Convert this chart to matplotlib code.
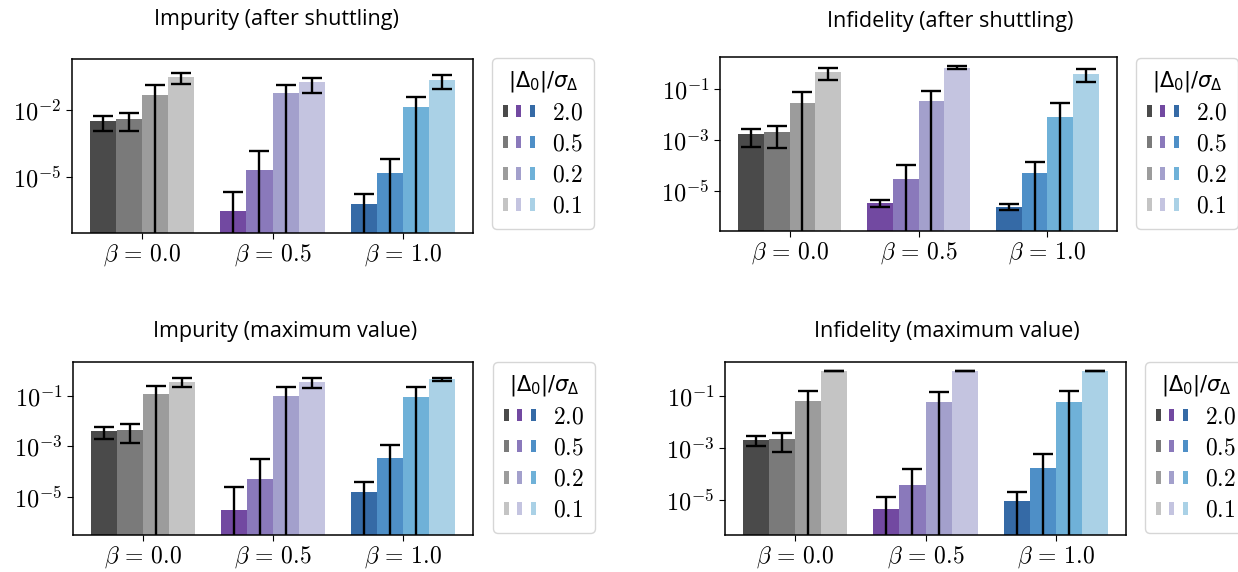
import matplotlib
matplotlib.use("Agg")
import matplotlib.pyplot as plt
from matplotlib.patches import Patch
from matplotlib.legend_handler import HandlerTuple
from matplotlib.ticker import FixedLocator, NullLocator, FuncFormatter
import numpy as np

plt.rcParams['mathtext.fontset'] = 'cm'

# ---------------- data ----------------
group_labels = [r'$\beta\,=\,0.0$', r'$\beta\,=\,0.5$', r'$\beta\,=\,1.0$']
ratio_labels = ['2.0', '0.5', '0.2', '0.1']

grey_colors = ['#4a4a4a', '#7a7a7a', '#9c9c9c', '#c4c4c4']
purple_colors = ['#7249a1', '#8a79bb', '#a3a0cc', '#c4c4e0']
blue_colors = ['#356aa6', '#4e8fc7', '#6fb1d8', '#aad1e6']

titles = ['Impurity (after shuttling)', 'Infidelity (after shuttling)',
          'Impurity (maximum value)', 'Infidelity (maximum value)']

imp_after_vals = [[3.3e-3, 4.2e-3, 0.046, 0.30],
                  [3.3e-7, 2.1e-5, 0.060, 0.175],
                  [6.6e-7, 1.6e-5, 0.014, 0.235]]
imp_after_errs = [[2.1e-3, 3.0e-3, 0.087, 0.15],
                  [2.0e-6, 1.3e-4, 0.070, 0.115],
                  [1.15e-6, 4.9e-5, 0.025, 0.15]]

inf_after_vals = [[1.7e-3, 2.0e-3, 0.028, 0.48],
                  [3.4e-6, 2.9e-5, 0.035, 0.72],
                  [2.4e-6, 4.9e-5, 8.5e-3, 0.42]]
inf_after_errs = [[1.15e-3, 1.5e-3, 0.048, 0.24],
                  [1.0e-6, 7.8e-5, 0.051, 0.10],
                  [0.6e-6, 8.3e-5, 0.021, 0.23]]

imp_max_vals = [[3.9e-3, 4.5e-3, 0.116, 0.36],
                [3.2e-6, 5.1e-5, 0.100, 0.36],
                [1.55e-5, 3.4e-4, 0.091, 0.44]]
imp_max_errs = [[2.0e-3, 3.1e-3, 0.135, 0.14],
                [2.1e-5, 2.7e-4, 0.120, 0.15],
                [2.5e-5, 8.4e-4, 0.130, 0.07]]

inf_max_vals = [[2.0e-3, 2.15e-3, 0.065, 0.92],
                [4.6e-6, 3.9e-5, 0.058, 0.92],
                [9.1e-6, 1.74e-4, 0.056, 0.92]]
inf_max_errs = [[8e-4, 1.45e-3, 0.095, 0.01],
                [8.8e-6, 1.2e-4, 0.083, 0.01],
                [1.04e-5, 4.3e-4, 0.100, 0.01]]

panel_vals = [imp_after_vals, inf_after_vals, imp_max_vals, inf_max_vals]
panel_errs = [imp_after_errs, inf_after_errs, imp_max_errs, inf_max_errs]
panel_ylims = [(3.3e-8, 1.95), (2.6e-7, 1.9), (3.2e-7, 2.15), (4.5e-7, 2.0)]
panel_yticks = [[1e-5, 1e-2], [1e-5, 1e-3, 1e-1], [1e-5, 1e-3, 1e-1], [1e-5, 1e-3, 1e-1]]

# ---------------- layout (pixels) ----------------
W, H = 1238, 572
# left, right, top, bottom
axes_px = [(72, 473, 59, 233), (720, 1117, 57, 231),
           (73, 473, 362, 535), (725, 1126, 362, 535)]
title_px = [(276, 20), (950, 22), (285, 331), (947, 332)]
legend_px = [(492, 58), (1136, 58), (493, 362), (1145, 362)]

fig = plt.figure(figsize=(W / 100, H / 100), dpi=100)

family_colors = [grey_colors, purple_colors, blue_colors]
width = 0.2
offsets = [-0.3, -0.1, 0.1, 0.3]


def log_label(v, pos):
    e = int(round(np.log10(v)))
    return r'$10^{%d}$' % e


for p in range(4):
    l, r, t, b = axes_px[p]
    ax = fig.add_axes([l / W, 1 - b / H, (r - l) / W, (b - t) / H])
    ax.set_yscale('log')
    vals = panel_vals[p]
    errs = panel_errs[p]
    for g in range(3):
        for k in range(4):
            x = g + offsets[k]
            ax.bar(x, vals[g][k], width=width, color=family_colors[g][k],
                   linewidth=0, zorder=2)
            ax.errorbar(x, vals[g][k], yerr=errs[g][k], fmt='none',
                        ecolor='black', elinewidth=1.7, capsize=7,
                        capthick=1.7, zorder=3)
    ax.set_xlim(-0.54, 2.54)
    ax.set_ylim(*panel_ylims[p])
    ax.set_xticks([0, 1, 2])
    ax.set_xticklabels(group_labels, fontsize=17)
    ax.yaxis.set_major_locator(FixedLocator(panel_yticks[p]))
    ax.yaxis.set_minor_locator(NullLocator())
    ax.yaxis.set_major_formatter(FuncFormatter(log_label))
    ax.tick_params(axis='y', labelsize=17.5, length=4)
    ax.tick_params(axis='x', length=4, pad=3)
    for s in ax.spines.values():
        s.set_linewidth(1.1)

    tx, ty = title_px[p]
    fig.text(tx / W, 1 - ty / H, titles[p], ha='center', va='center',
             fontsize=15.5, family='Open Sans')

    handles = []
    for k in range(4):
        handles.append(tuple(Patch(facecolor=family_colors[g][k], linewidth=0)
                             for g in range(3)))
    lx, ly = legend_px[p]
    leg = ax.legend(handles, ['$' + s + '$' for s in ratio_labels],
                    handler_map={tuple: HandlerTuple(ndivide=None, pad=0.36)},
                    loc='upper left', bbox_to_anchor=(lx / W, 1 - ly / H),
                    bbox_transform=fig.transFigure, borderaxespad=0,
                    fontsize=17, title=r'$|\Delta_0|/\sigma_\Delta$',
                    title_fontsize=15, handlelength=1.35, handleheight=0.42,
                    handletextpad=0.75, labelspacing=0.3, borderpad=0.45)
    leg.get_title().set_math_fontfamily('dejavusans')

fig.savefig('out.png', dpi=100)
